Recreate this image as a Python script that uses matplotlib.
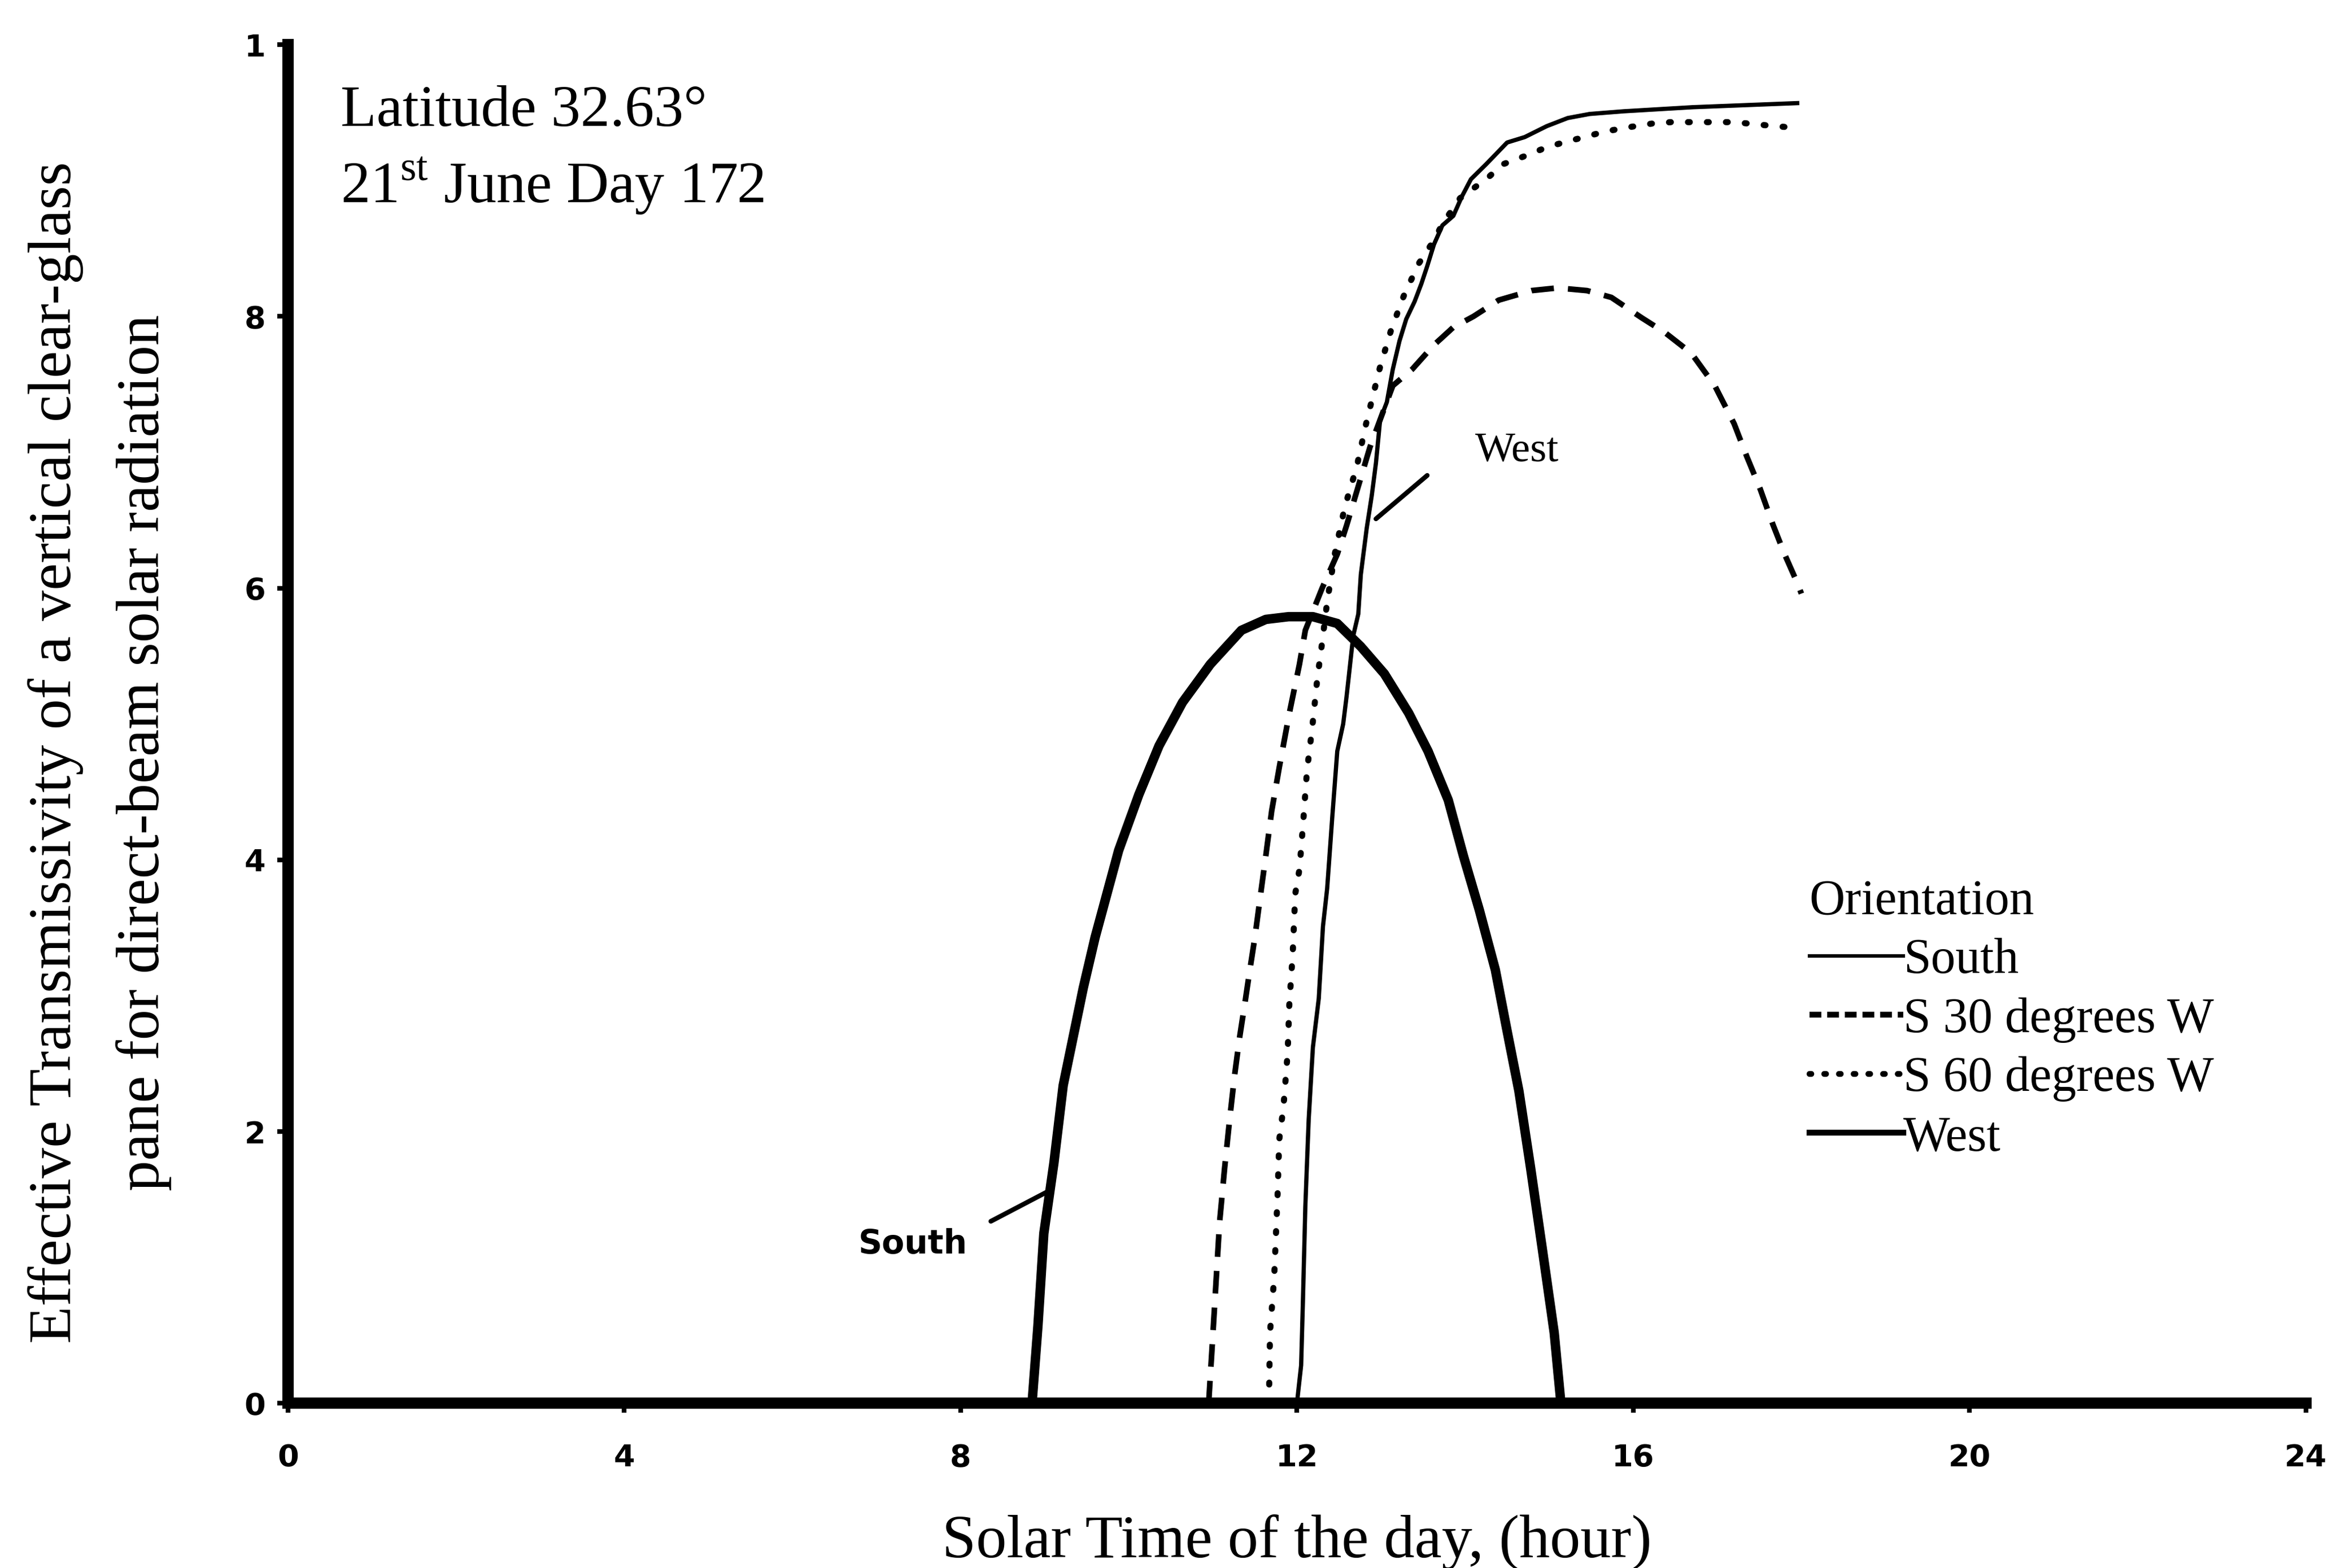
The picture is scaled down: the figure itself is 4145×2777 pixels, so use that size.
import matplotlib
matplotlib.use("Agg")
import matplotlib.pyplot as plt
from matplotlib.lines import Line2D
from matplotlib import font_manager

# effective transmissivity, 21 June, latitude 32.63
south_hour = [8.85, 8.92, 8.99, 9.11, 9.22, 9.34, 9.46, 9.60, 9.74, 9.88, 10.12, 10.36,
              10.64, 10.97, 11.34, 11.63, 11.90, 12.19, 12.48, 12.76, 13.04, 13.33, 13.56,
              13.80, 13.98, 14.17, 14.36, 14.50, 14.64, 14.78, 14.92, 15.06, 15.14]
south_val = [0.0, 0.057, 0.125, 0.177, 0.234, 0.270, 0.306, 0.343, 0.375, 0.407, 0.448, 0.484,
             0.516, 0.544, 0.569, 0.577, 0.579, 0.579, 0.574, 0.557, 0.537, 0.508, 0.480,
             0.444, 0.403, 0.363, 0.319, 0.274, 0.230, 0.173, 0.113, 0.052, 0.0]

s30_hour = [10.95, 10.99, 11.03, 11.08, 11.14, 11.20, 11.26, 11.32, 11.38, 11.44, 11.50, 11.56,
            11.63, 11.70, 11.79, 11.91, 12.03, 12.10, 12.30, 12.48, 12.59, 12.87, 13.14, 13.37,
            13.63, 13.86, 14.10, 14.40, 14.79, 15.10, 15.45, 15.74, 16.10, 16.38, 16.69, 16.97,
            17.20, 17.35, 17.51, 17.66, 17.80, 17.95, 18.0]
s30_val = [0.0, 0.040, 0.081, 0.133, 0.173, 0.209, 0.242, 0.270, 0.294, 0.319, 0.343, 0.371,
           0.403, 0.436, 0.468, 0.508, 0.544, 0.569, 0.600, 0.625, 0.646, 0.704, 0.749, 0.761,
           0.779, 0.792, 0.800, 0.812, 0.819, 0.821, 0.819, 0.814, 0.799, 0.788, 0.773, 0.749,
           0.721, 0.697, 0.673, 0.647, 0.625, 0.604, 0.596]

s60_hour = [11.65, 11.67, 11.68, 11.73, 11.77, 11.79, 11.84, 11.89, 11.91, 11.95, 11.98, 12.03,
            12.07, 12.12, 12.18, 12.24, 12.30, 12.36, 12.45, 12.57, 12.71, 12.83, 12.99, 13.12,
            13.27, 13.45, 13.63, 13.73, 13.94, 14.27, 14.45, 14.71, 14.99, 15.66, 15.92, 16.23,
            16.45, 16.71, 16.99, 17.20, 17.69, 17.90]
s60_val = [0.0, 0.012, 0.052, 0.093, 0.153, 0.194, 0.218, 0.258, 0.294, 0.331, 0.375, 0.393,
           0.424, 0.466, 0.496, 0.532, 0.560, 0.590, 0.625, 0.660, 0.689, 0.723, 0.763, 0.790,
           0.815, 0.839, 0.856, 0.868, 0.887, 0.902, 0.912, 0.918, 0.925, 0.936, 0.939, 0.942,
           0.943, 0.943, 0.943, 0.943, 0.940, 0.939]

west_hour = [12.0, 12.05, 12.07, 12.10, 12.14, 12.19, 12.26, 12.31, 12.36, 12.42, 12.48, 12.55,
             12.59, 12.67, 12.73, 12.76, 12.83, 12.89, 12.94, 12.99, 13.07, 13.14, 13.22, 13.30,
             13.40, 13.48, 13.55, 13.63, 13.73, 13.86, 13.96, 14.07, 14.25, 14.50, 14.71, 14.97,
             15.22, 15.48, 15.89, 16.71, 17.95]
west_val = [0.0, 0.028, 0.072, 0.145, 0.209, 0.262, 0.298, 0.351, 0.379, 0.431, 0.480, 0.500,
            0.520, 0.565, 0.581, 0.610, 0.644, 0.668, 0.692, 0.724, 0.737, 0.761, 0.782, 0.798,
            0.811, 0.824, 0.837, 0.853, 0.867, 0.874, 0.888, 0.901, 0.912, 0.928, 0.932, 0.940,
            0.946, 0.949, 0.951, 0.954, 0.957]

legend_labels = ["South", "S 30 degrees W", "S 60 degrees W", "West"]
xtick_vals = [0, 4, 8, 12, 16, 20, 24]
ytick_vals = [0, 0.2, 0.4, 0.6, 0.8, 1.0]
ytick_text = ["0", "2", "4", "6", "8", "1"]

# pick a narrow sans for the squeezed tick digits, if there is one
installed = {f.name for f in font_manager.fontManager.ttflist}
narrow = "DejaVu Sans"
for name in ["Liberation Sans Narrow", "DejaVu Sans Condensed"]:
    if name in installed:
        narrow = name
        break

plt.rcParams["font.family"] = ["Liberation Serif", "DejaVu Serif"]
plt.rcParams["mathtext.fontset"] = "custom"
plt.rcParams["mathtext.rm"] = "Liberation Serif"

fig = plt.figure(figsize=(4145 / 300, 2777 / 300), dpi=300)
ax = fig.add_axes([0.123, 0.105, 0.862, 0.8665])

ax.plot(south_hour, south_val, color="black", lw=4.0, solid_joinstyle="round")
ax.plot(s30_hour, s30_val, color="black", lw=2.4, ls=(0, (4, 2.5)))
ax.plot(s60_hour, s60_val, color="black", lw=2.6, ls=(0, (0.3, 2.8)),
        dash_capstyle="round")
ax.plot(west_hour, west_val, color="black", lw=1.8)

ax.set_xlim(0, 24)
ax.set_ylim(0, 1)
ax.spines["top"].set_visible(False)
ax.spines["right"].set_visible(False)
ax.spines["left"].set_linewidth(4.8)
ax.spines["bottom"].set_linewidth(4.8)

ax.set_xticks(xtick_vals)
ax.set_xticklabels([str(v) for v in xtick_vals])
ax.set_yticks(ytick_vals)
ax.set_yticklabels(ytick_text)
ax.tick_params(axis="x", direction="out", length=4, width=2, pad=13)
ax.tick_params(axis="y", direction="out", length=4.5, width=2, pad=5)
for lbl in ax.get_xticklabels() + ax.get_yticklabels():
    lbl.set_fontfamily(narrow)
    lbl.set_fontweight("bold")
    lbl.set_fontsize(13)

fig.text(0.554, 0.0165, "Solar Time of the day, (hour)", fontsize=26,
         ha="center", va="center")
fig.text(0.0425, 0.520,
         "Effective Transmissivity of a vertical clear-glass\npane for direct-beam solar radiation",
         fontsize=26, rotation=90, ha="center", va="center", multialignment="center",
         linespacing=1.75)

ax.text(0.026, 0.9505, "Latitude 32.63\u00b0", transform=ax.transAxes, fontsize=25,
        ha="left", va="center")
ax.text(0.026, 0.8957, "21$^{\\mathrm{st}}$ June Day 172", transform=ax.transAxes,
        fontsize=25, ha="left", va="center")

# curve labels with leader lines
ax.annotate("", xy=(12.94, 0.651), xytext=(13.55, 0.683),
            arrowprops=dict(arrowstyle="-", lw=2, shrinkA=0, shrinkB=0, color="black"))
ax.text(14.62, 0.701, "West", fontsize=18, ha="center", va="center")
ax.annotate("", xy=(9.07, 0.157), xytext=(8.36, 0.134),
            arrowprops=dict(arrowstyle="-", lw=2, shrinkA=0, shrinkB=0, color="black"))
ax.text(7.43, 0.117, "South", fontsize=14, ha="center", va="center",
        family=narrow, fontweight="bold")

handles = [
    Line2D([], [], color="black", lw=1.5),
    Line2D([], [], color="black", lw=2.5, ls=(0, (2, 1))),
    Line2D([], [], color="black", lw=2.5, ls=(0, (0.3, 2.2)), dash_capstyle="round"),
    Line2D([], [], color="black", lw=2.5),
]
ax.legend(handles, legend_labels, title="Orientation", loc="upper left",
          bbox_to_anchor=(0.754, 0.386), frameon=False, fontsize=21, title_fontsize=21,
          handlelength=1.9, handletextpad=0, labelspacing=0.27, borderpad=0,
          borderaxespad=0, alignment="left")

fig.savefig("out.png", dpi=300, facecolor="white")
